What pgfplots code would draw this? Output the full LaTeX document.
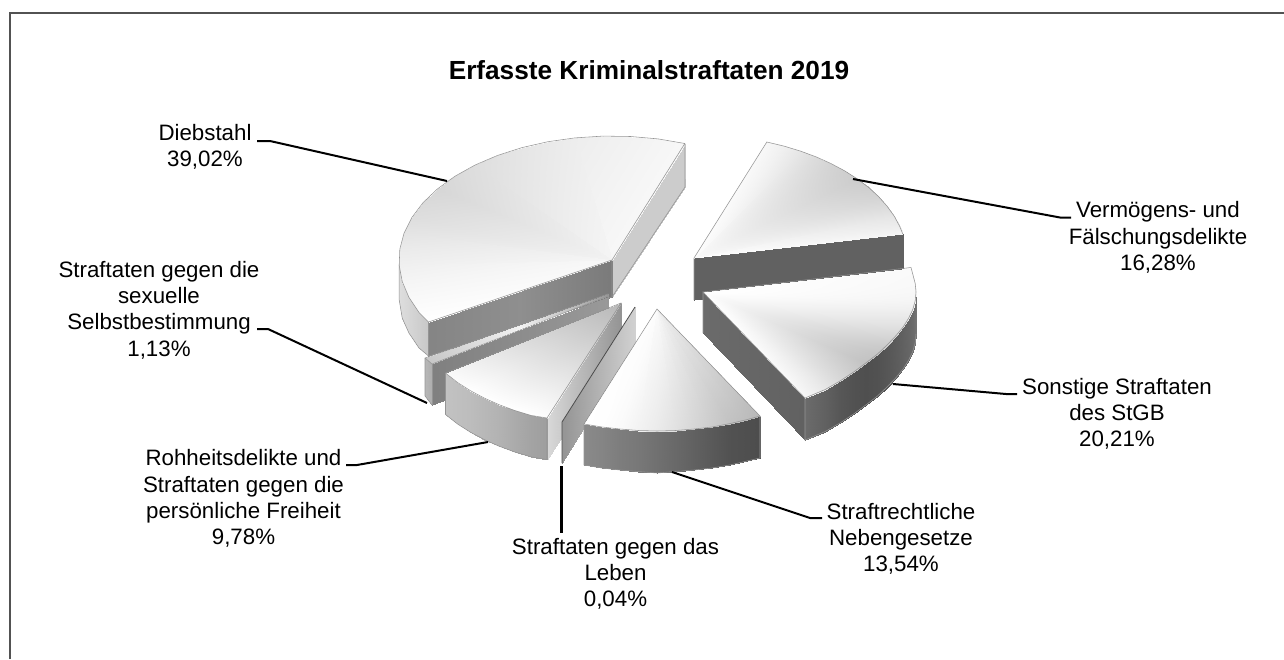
\documentclass[border=0pt]{standalone}
\usepackage{pgfplots}
\pgfplotsset{compat=1.18}
\usepackage{fontspec}
\setmainfont{Liberation Sans}
\pgfplotsset{colormap={grays}{gray(0cm)=(0); gray(1cm)=(1)},
  face/.style={surf, shader=interp, mesh/rows=2, point meta=\thisrow{c}, forget plot},
  edge/.style={no markers, draw=black!42, line width=0.55pt, forget plot},
  lead/.style={no markers, draw=black, line width=2pt, forget plot}}
\begin{document}
\begin{tikzpicture}
\begin{axis}[scale only axis, width=1284pt, height=659pt, xmin=0, xmax=1284, ymin=0, ymax=659,
  y dir=reverse, axis lines=none, colormap name=grays, point meta min=0, point meta max=1,
  clip=true]
% frame
\addplot[no markers, draw=black!68, line width=1.5pt, forget plot] coordinates {(10,659) (10,13) (1284,13)};
% Vermoegens wall
\addplot[face] table {
x y c
694 258 .38
903 234 .38
694 300 .38
903 275 .38
};
% Vermoegens top
\addplot[face] table {
x y c
694 258 1
694 258 .99
694 258 .99
694 258 .98
694 258 .98
694 258 .98
694 258 .98
694 258 .98
694 258 .98
694 258 .98
694 258 .98
694 258 .99
694 258 .99
902.8 234 .96
899.7 226.4 .93
894.2 216.1 .9
887 206.1 .86
878.5 196.5 .83
868.5 187.4 .81
857.2 178.8 .8
844.6 170.8 .81
830.9 163.5 .83
816.2 156.9 .86
800.5 151.1 .9
784 146.1 .94
766.8 142 .97
};
\addplot[edge] coordinates {(694,300) (694,258) (766.8,142) (784,146.1) (800.5,151.1) (816.2,156.9) (830.9,163.5) (844.6,170.8) (857.2,178.8) (868.5,187.4) (878.5,196.5) (887,206.1) (894.2,216.1) (899.7,226.4) (902.8,234)};
% Diebstahl back wall
\addplot[face] table {
x y c
612 260 .8
685 144 .8
612 297 .8
685 187 .8
};
% Diebstahl outer wall
\addplot[face] table {
x y c
399.2 265.4 .87
402.2 281.5 .86
408.9 297.3 .84
419 312.4 .81
428.5 322 .78
399.2 300 .87
402.2 318 .86
408.9 333 .84
419 348 .81
428.5 356 .78
};
% Diebstahl front wall
\addplot[face] table {
x y c
428 322 .52
520 291 .56
612 260 .48
428 356 .52
520 326 .56
612 297 .48
};
% Diebstahl top
\addplot[face] table {
x y c
612 260 .97
612 260 .97
612 260 .97
612 260 .97
612 260 .97
612 260 .96
612 260 .96
612 260 .96
612 260 .96
612 260 .95
612 260 .95
612 260 .95
612 260 .95
612 260 .95
612 260 .96
612 260 .96
612 260 .97
612 260 .97
612 260 .97
612 260 .97
684.8 143.5 .97
658.1 138.9 .96
630.6 136.5 .95
602.7 136.1 .94
575 137.9 .93
548 141.7 .915
522 147.6 .9
497.6 155.4 .885
475.1 165 .87
455 176.2 .855
437.5 188.9 .84
423 202.7 .855
411.8 217.6 .87
404 233.2 .895
399.8 249.2 .92
399.2 265.4 .94
402.2 281.5 .96
408.9 297.3 .975
419 312.4 .99
428.5 322 1
};
\addplot[edge] coordinates {(612,297) (612,260) (684.8,143.5) (658.1,138.9) (630.6,136.5) (602.7,136.1) (575,137.9) (548,141.7) (522,147.6) (497.6,155.4) (475.1,165) (455,176.2) (437.5,188.9) (423,202.7) (411.8,217.6) (404,233.2) (399.8,249.2) (399.2,265.4) (402.2,281.5) (408.9,297.3) (419,312.4) (428.5,322) (612,260)};
\addplot[edge] coordinates {(684.8,143.5) (685,187) (612,297) (428.5,356) (419,348) (408.9,333) (402.2,318) (399.2,300) (399.2,265.4)};
\addplot[edge] coordinates {(428.5,322) (428.5,356)};
% Sexual: outer wall and front wall
\addplot[face] table {
x y c
425 358 .72
432 364 .68
425 396 .72
432 405 .68
};
\addplot[face] table {
x y c
432 364 .5
520 330 .55
608 297 .6
432 405 .5
520 372 .55
608 330 .6
};
% Sexual top
\addplot[face] table {
x y c
608 294 .6
520 325 .95
425 358 .78
608 296 .6
520 328 .95
432 364 .78
};
\addplot[edge] coordinates {(432,405) (425,396) (425,358) (608,294) (608,303)};
\addplot[edge] coordinates {(425,358) (432,364) (608,296)};
\addplot[edge] coordinates {(432,364) (432,405)};
% Rohheit right wall
\addplot[face] table {
x y c
621 303 .58
547 418 .85
621 345 .58
547 459.5 .85
};
% Rohheit outer wall
\addplot[face] table {
x y c
445.5 373 .76
457.8 382.7 .75
470.4 390.7 .74
484.1 398 .72
498.8 404.6 .7
514.5 410.4 .67
531 415.4 .64
547 418 .62
445.5 414.5 .76
457.8 424.2 .75
470.4 432.2 .74
484.1 439.5 .72
498.8 446.1 .7
514.5 451.9 .67
531 456.9 .64
547 459.5 .62
};
% Rohheit top
\addplot[face] table {
x y c
621 303 .72
621 303 .72
621 303 .72
621 303 .72
621 303 .72
621 303 .72
621 303 .72
621 303 .72
445.5 373 .98
457.8 382.7 .99
470.4 390.7 1
484.1 398 1
498.8 404.6 1
514.5 410.4 1
531 415.4 1
547 418 .99
};
\addplot[edge] coordinates {(621,345) (621,303) (445.5,373) (457.8,382.7) (470.4,390.7) (484.1,398) (498.8,404.6) (514.5,410.4) (531,415.4) (547,418) (621,303)};
\addplot[edge] coordinates {(445.5,373) (445.5,414.5) (457.8,424.2) (470.4,432.2) (484.1,439.5) (498.8,446.1) (514.5,451.9) (531,456.9) (547,459.5) (547,418)};
% Leben wall
\addplot[face] table {
x y c
562 422 .58
635 307 .82
562 463 .58
635 345 .82
};
\addplot[no markers, draw=black!70, line width=0.8pt, forget plot] coordinates {(562,463) (562,422) (635,307)};
% Nebengesetze outer wall
\addplot[face] table {
x y c
584 424 .54
601.9 427 .52
620 429 .49
638.4 430.5 .47
657 431 .44
675.6 430.5 .41
694 429 .38
712.1 427 .35
729.8 423.6 .32
747 419.6 .31
760 416 .3
584 465 .54
601.9 468 .52
620 470 .49
638.4 471.5 .47
657 473 .44
675.6 471.5 .41
694 470 .38
712.1 468 .35
729.8 465 .32
747 461 .31
760 458 .3
};
% Nebengesetze top
\addplot[face] table {
x y c
657 309 .99
657 309 .99
657 309 .99
657 309 .99
657 309 .98
657 309 .98
657 309 .97
657 309 .96
657 309 .95
657 309 .94
657 309 .93
584 424 1
601.9 427 .995
620 429 .98
638.4 430.5 .95
657 431 .92
675.6 430.5 .88
694 429 .84
712.1 427 .8
729.8 423.6 .76
747 419.6 .74
760 416 .72
};
\addplot[edge] coordinates {(584,465) (584,424) (657,309) (760,416) (760,458)};
\addplot[edge] coordinates {(584,424) (601.9,427) (620,429) (638.4,430.5) (657,431) (675.6,430.5) (694,429) (712.1,427) (729.8,423.6) (747,419.6) (760,416)};
\addplot[edge] coordinates {(584,465) (601.9,468) (620,470) (638.4,471.5) (657,473) (675.6,471.5) (694,470) (712.1,468) (729.8,465) (747,461) (760,458)};
% Sonstige front wall
\addplot[face] table {
x y c
703 292 .42
805 398 .38
703 333 .42
805 440 .38
};
% Sonstige outer wall
\addplot[face] table {
x y c
805 398 .42
825.2 389.5 .38
840 381 .34
853.6 372 .32
866.2 362.7 .31
877.5 354 .32
887.5 344.5 .34
896 335.6 .36
903.2 326.9 .38
908.7 318 .4
912.8 309.4 .42
915.2 300.7 .44
916 292 .45
805 440 .42
825.2 431.5 .38
840 423 .34
853.6 414 .32
866.2 404.7 .31
877.5 396 .32
887.5 386.5 .34
896 377.6 .36
903.2 368.9 .38
908.7 360 .4
912.8 351.4 .42
915.2 342.7 .44
916 334 .45
};
% Sonstige top
\addplot[face] table {
x y c
703 292 1
703 292 1
703 292 1
703 292 1
703 292 1
703 292 1
703 292 1
703 292 1
703 292 1
703 292 1
703 292 1
703 292 1
703 292 1
703 292 1
703 292 1
805 398 .97
825.2 389.5 .91
840 381 .85
853.6 372 .8
866.2 362.7 .76
877.5 354 .77
887.5 344.5 .8
896 335.6 .84
903.2 326.9 .88
908.7 318 .91
912.8 309.4 .94
915.2 300.7 .96
916 292 .97
915.2 283.5 .975
911 267.5 .98
};
\addplot[edge] coordinates {(703,333) (703,292) (805,398) (825.2,389.5) (840,381) (853.6,372) (866.2,362.7) (877.5,354) (887.5,344.5) (896,335.6) (903.2,326.9) (908.7,318) (912.8,309.4) (915.2,300.7) (916,292) (915.2,283.5) (911,267.5) (703,292)};
\addplot[edge] coordinates {(805,398) (805,440) (825.2,431.5) (840,423) (853.6,414) (866.2,404.7) (877.5,396) (887.5,386.5) (896,377.6) (903.2,368.9) (908.7,360) (912.8,351.4) (915.2,342.7) (916,334)};
% leaders
\addplot[lead] coordinates {(257,141) (270,141) (447,181)};
\addplot[lead] coordinates {(853,179) (1060,217.5) (1071,217.5)};
\addplot[lead] coordinates {(893,384) (1006,394) (1017,394)};
\addplot[lead] coordinates {(672,472) (810,518) (822,518)};
\addplot[lead, line width=3pt] coordinates {(561,466) (561,533)};
\addplot[lead] coordinates {(488,442) (357,465) (346,465)};
\addplot[lead] coordinates {(427,403) (268,329) (257,329)};
% text
\node[font=\fontsize{26.2}{31}\selectfont\bfseries] at (axis cs:649,70) {Erfasste Kriminalstraftaten 2019};
\tikzset{lab/.style={font=\fontsize{22.3}{26.3}\selectfont, align=center, inner sep=0pt}}
\node[lab] at (axis cs:205,147) {Diebstahl\\39,02\%};
\node[lab] at (axis cs:1158,237.5) {Vermögens- und\\Fälschungsdelikte\\16,28\%};
\node[lab] at (axis cs:1117,414) {Sonstige Straftaten\\des StGB\\20,21\%};
\node[lab] at (axis cs:901,539) {Straftrechtliche\\Nebengesetze\\13,54\%};
\node[lab] at (axis cs:615.5,574) {Straftaten gegen das\\Leben\\0,04\%};
\node[lab] at (axis cs:243.5,498.5) {Rohheitsdelikte und\\Straftaten gegen die\\persönliche Freiheit\\9,78\%};
\node[lab] at (axis cs:159,310) {Straftaten gegen die\\sexuelle\\Selbstbestimmung\\1,13\%};
\end{axis}
\pgfresetboundingbox
\path[use as bounding box] (current axis.south west) rectangle (current axis.north east);
\end{tikzpicture}
\end{document}
